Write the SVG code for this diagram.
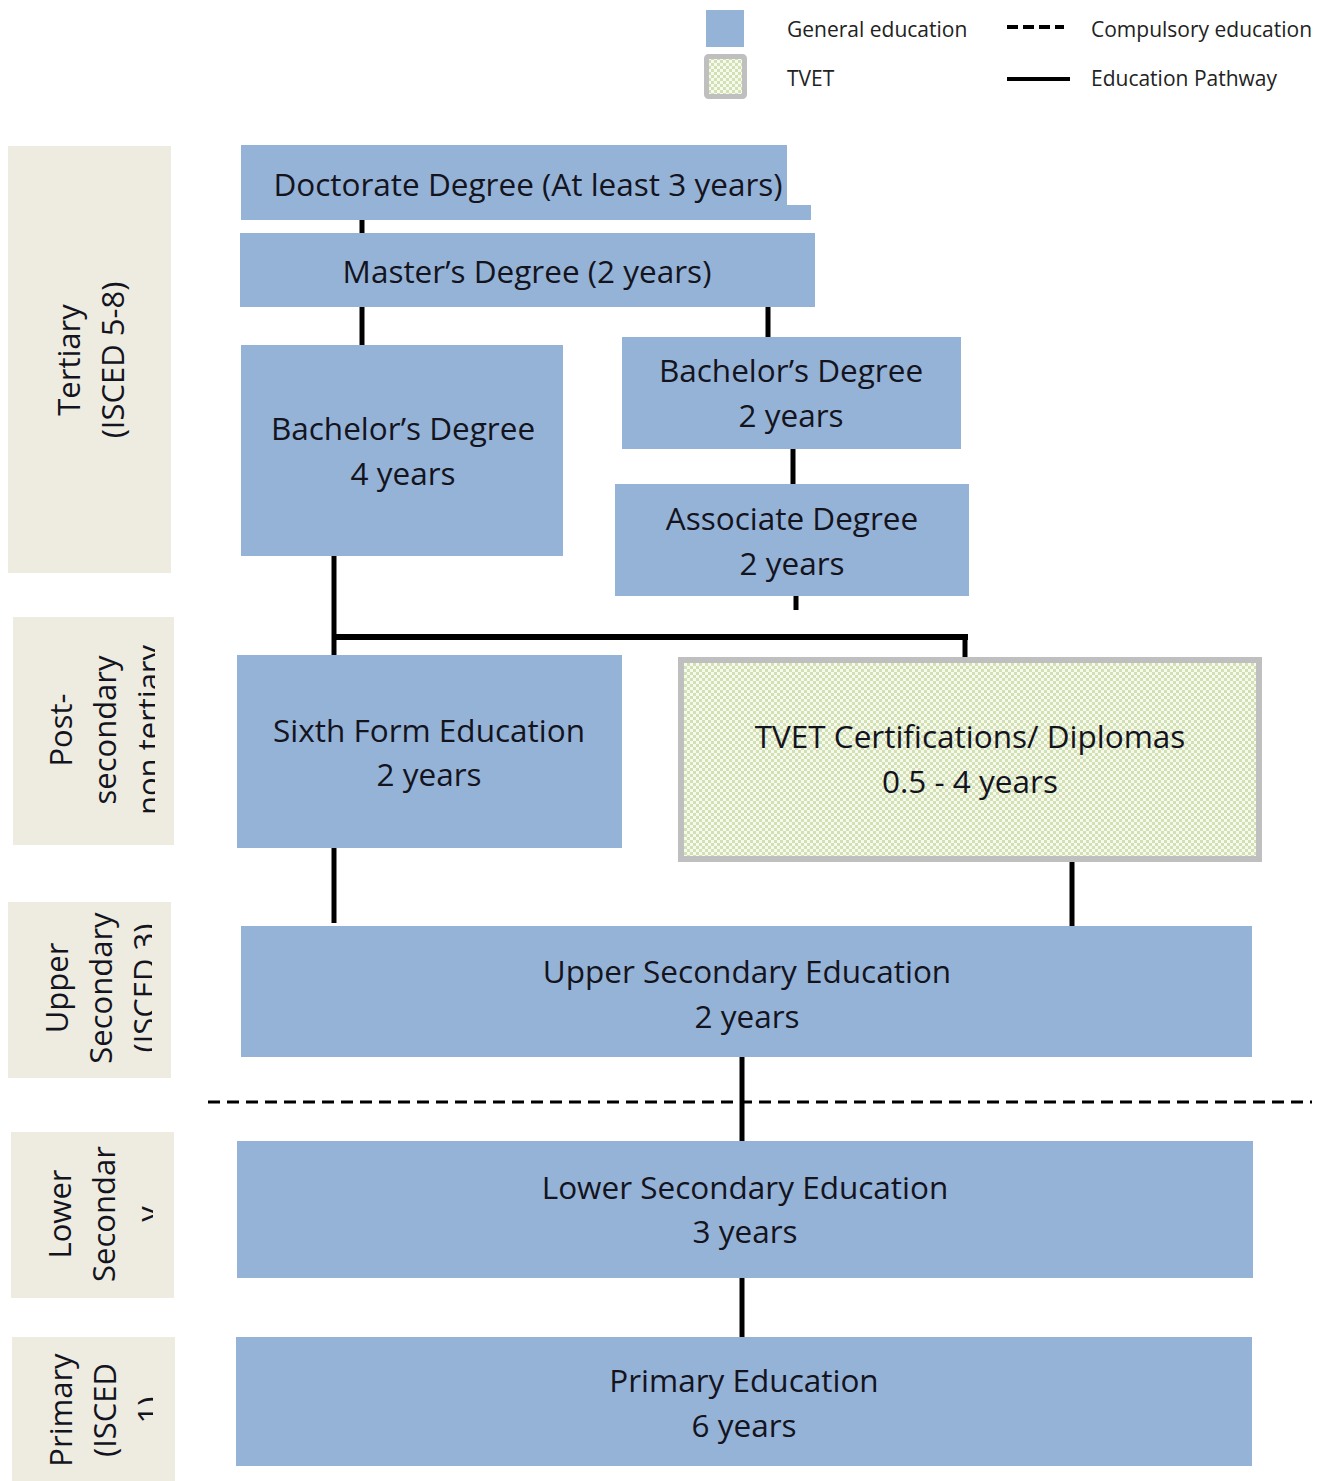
<svg xmlns="http://www.w3.org/2000/svg" width="1328" height="1481" viewBox="0 0 1328 1481">
<defs>
<style>
.box{fill:#95b3d7}
.side{fill:#eeece1}
.t{font-family:"Open Sans","Noto Sans",sans-serif;font-size:31.5px;fill:#14141e;text-anchor:middle}
.s{font-family:"Open Sans","Noto Sans",sans-serif;font-size:31px;fill:#14141e;text-anchor:middle}
.lg{font-family:"Open Sans","Noto Sans",sans-serif;font-size:21px;fill:#222}
.c{stroke:#000;stroke-width:5;fill:none}
</style>
<pattern id="tvetp" width="6" height="6" patternUnits="userSpaceOnUse">
<rect width="6" height="6" fill="#f6f9ee"/>
<rect x="0" y="0" width="3" height="3" fill="#d3e0b4"/>
<rect x="3" y="3" width="3" height="3" fill="#d3e0b4"/>
</pattern>
<clipPath id="cp1"><rect x="8" y="146" width="146" height="427"/></clipPath>
<clipPath id="cp2"><rect x="13" y="617" width="142" height="228"/></clipPath>
<clipPath id="cp3"><rect x="8" y="902" width="144" height="176"/></clipPath>
<clipPath id="cp4"><rect x="11" y="1132" width="142" height="166"/></clipPath>
<clipPath id="cp5"><rect x="12" y="1337" width="141" height="144"/></clipPath>
</defs>
<rect width="1328" height="1481" fill="#fff"/>

<g id="legend">
<rect x="706" y="10" width="38" height="37" class="box"/>
<rect x="706.5" y="56.5" width="38" height="40" fill="url(#tvetp)" stroke="#bfbfbf" stroke-width="5" rx="2"/>
<text x="787" y="37" class="lg">General education</text>
<text x="787" y="86" class="lg">TVET</text>
<line x1="1007" y1="27" x2="1064" y2="27" stroke="#000" stroke-width="4" stroke-dasharray="11,5"/>
<line x1="1007" y1="79" x2="1070" y2="79" stroke="#000" stroke-width="4"/>
<text x="1091" y="37" class="lg">Compulsory education</text>
<text x="1091" y="86" class="lg">Education Pathway</text>
</g>

<g id="side-tertiary">
<rect x="8" y="146" width="163" height="427" class="side"/>
<g clip-path="url(#cp1)">
<text class="s" transform="translate(80,360) rotate(-90)">Tertiary</text>
<text class="s" transform="translate(124,360) rotate(-90)">(ISCED 5-8)</text>
</g>
</g>
<g id="side-postsecondary">
<rect x="13" y="617" width="161" height="228" class="side"/>
<g clip-path="url(#cp2)">
<text class="s" transform="translate(72,730) rotate(-90)">Post-</text>
<text class="s" transform="translate(116,730) rotate(-90)">secondary</text>
<text class="s" transform="translate(160,730) rotate(-90)">non tertiary</text>
</g>
</g>
<g id="side-upper">
<rect x="8" y="902" width="163" height="176" class="side"/>
<g clip-path="url(#cp3)">
<text class="s" transform="translate(68,988) rotate(-90)">Upper</text>
<text class="s" transform="translate(112,988) rotate(-90)">Secondary</text>
<text class="s" transform="translate(156,988) rotate(-90)">(ISCED 3)</text>
</g>
</g>
<g id="side-lower">
<rect x="11" y="1132" width="163" height="166" class="side"/>
<g clip-path="url(#cp4)">
<text class="s" transform="translate(71,1214) rotate(-90)">Lower</text>
<text class="s" transform="translate(115,1214) rotate(-90)">Secondar</text>
<text class="s" transform="translate(159,1214) rotate(-90)">y</text>
</g>
</g>
<g id="side-primary">
<rect x="12" y="1337" width="163" height="144" class="side"/>
<g clip-path="url(#cp5)">
<text class="s" transform="translate(72,1410) rotate(-90)">Primary</text>
<text class="s" transform="translate(116,1410) rotate(-90)">(ISCED</text>
<text class="s" transform="translate(160,1410) rotate(-90)">1)</text>
</g>
</g>

<g id="connectors">
<line x1="362" y1="219" x2="362" y2="234" class="c"/>
<line x1="362" y1="306" x2="362" y2="346" class="c"/>
<line x1="768" y1="306" x2="768" y2="338" class="c"/>
<line x1="793" y1="448" x2="793" y2="485" class="c"/>
<line x1="796" y1="595" x2="796" y2="610" class="c"/>
<line x1="334" y1="555" x2="334" y2="656" class="c"/>
<line x1="334" y1="637" x2="968" y2="637" stroke="#000" stroke-width="6"/>
<line x1="965" y1="637" x2="965" y2="658" class="c"/>
<line x1="334" y1="847" x2="334" y2="923" class="c"/>
<line x1="1072" y1="861" x2="1072" y2="927" class="c"/>
<line x1="742" y1="1056" x2="742" y2="1142" class="c"/>
<line x1="742" y1="1277" x2="742" y2="1338" class="c"/>
<line x1="208" y1="1102" x2="1312" y2="1102" stroke="#000" stroke-width="3" stroke-dasharray="12,7"/>
</g>

<g id="doctorate">
<path d="M241,145 H787 V205 H811 V220 H241 Z" class="box"/>
<text x="528" y="196" class="t">Doctorate Degree (At least 3 years)</text>
</g>
<g id="masters">
<rect x="240" y="233" width="575" height="74" class="box"/>
<text x="527" y="283" class="t">Master’s Degree (2 years)</text>
</g>
<g id="bachelor4">
<rect x="241" y="345" width="322" height="211" class="box"/>
<text x="403" y="440" class="t">Bachelor’s Degree</text>
<text x="403" y="485" class="t">4 years</text>
</g>
<g id="bachelor2">
<rect x="622" y="337" width="339" height="112" class="box"/>
<text x="791" y="382" class="t">Bachelor’s Degree</text>
<text x="791" y="427" class="t">2 years</text>
</g>
<g id="associate">
<rect x="615" y="484" width="354" height="112" class="box"/>
<text x="792" y="530" class="t">Associate Degree</text>
<text x="792" y="575" class="t">2 years</text>
</g>
<g id="sixthform">
<rect x="237" y="655" width="385" height="193" class="box"/>
<text x="429" y="742" class="t">Sixth Form Education</text>
<text x="429" y="786" class="t">2 years</text>
</g>
<g id="tvet">
<rect x="681" y="660" width="578" height="199" fill="url(#tvetp)" stroke="#bfbfbf" stroke-width="6"/>
<text x="970" y="748" class="t">TVET Certifications/ Diplomas</text>
<text x="970" y="793" class="t">0.5 - 4 years</text>
</g>
<g id="upper">
<rect x="241" y="926" width="1011" height="131" class="box"/>
<text x="747" y="983" class="t">Upper Secondary Education</text>
<text x="747" y="1028" class="t">2 years</text>
</g>
<g id="lower">
<rect x="237" y="1141" width="1016" height="137" class="box"/>
<text x="745" y="1199" class="t">Lower Secondary Education</text>
<text x="745" y="1243" class="t">3 years</text>
</g>
<g id="primary">
<rect x="236" y="1337" width="1016" height="129" class="box"/>
<text x="744" y="1392" class="t">Primary Education</text>
<text x="744" y="1437" class="t">6 years</text>
</g>
</svg>
